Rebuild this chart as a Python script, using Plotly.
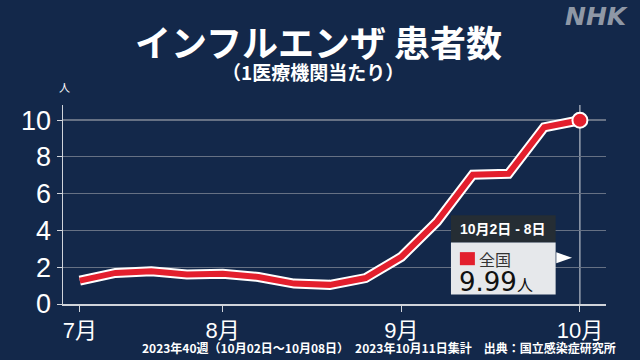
import plotly.graph_objects as go

weeks = list(range(15))
values = [1.27, 1.69, 1.78, 1.61, 1.65, 1.47, 1.11, 1.04, 1.41, 2.56, 4.48, 7.03, 7.08, 9.61, 9.99]
month_ticks = [0, 4, 9, 14]
month_labels = ["7月", "8月", "9月", "10月"]
y_ticks = [0, 2, 4, 6, 8, 10]
latest_label = "10月2日 - 8日"
region_name = "全国"
latest_value = values[-1]

BG = "#13284a"
RED = "#e31f2d"
JP = "Noto Sans CJK JP"
NUM = "Liberation Sans, Noto Sans CJK JP"

fig = go.Figure()
# white outline under the red line
fig.add_trace(go.Scatter(x=weeks, y=values, mode="lines",
                         line=dict(color="white", width=10), hoverinfo="skip"))
fig.add_trace(go.Scatter(x=weeks, y=values, mode="lines",
                         line=dict(color=RED, width=6), hoverinfo="skip"))
fig.add_trace(go.Scatter(x=[weeks[-1]], y=[values[-1]], mode="markers",
                         marker=dict(color=RED, size=15, line=dict(color="white", width=2)),
                         hoverinfo="skip"))

lx = weeks[-1]
shapes = [
    dict(type="line", xref="x", yref="paper", x0=lx, x1=lx, y0=0, y1=1,
         line=dict(color="#d8dce2", width=1), layer="below"),
    dict(type="rect", xref="x", yref="y", x0=lx - 3.61, x1=lx - 0.68, y0=3.35, y1=4.82,
         fillcolor="#252d34", line=dict(width=0)),
    dict(type="rect", xref="x", yref="y", x0=lx - 3.61, x1=lx - 0.68, y0=0.52, y1=3.35,
         fillcolor="#e6e8eb", line=dict(width=0)),
    dict(type="rect", xref="x", yref="y", x0=lx - 3.36, x1=lx - 2.94, y0=2.11, y1=2.82,
         fillcolor=RED, line=dict(width=0)),
    dict(type="path", xref="x", yref="y",
         path=f"M {lx-0.66},2.81 L {lx-0.22},2.51 L {lx-0.66},2.21 Z",
         fillcolor="white", line=dict(width=0)),
]

annotations = [
    dict(text="<b>インフルエンザ 患者数</b>", xref="paper", yref="paper", x=0.5, y=1,
         xanchor="center", yanchor="middle", xshift=-16, yshift=105 - 41, showarrow=False,
         font=dict(family=JP, size=36, color="white")),
    dict(text="<b>（1医療機関当たり）</b>", xref="paper", yref="paper", x=0.5, y=1,
         xanchor="center", yanchor="middle", xshift=-22, yshift=105 - 71, showarrow=False,
         font=dict(family=JP, size=19, color="white")),
    dict(text="人", xref="paper", yref="paper", x=0, y=1, xanchor="center", yanchor="middle",
         xshift=1, yshift=105 - 87, showarrow=False,
         font=dict(family=JP, size=11, color="white")),
    dict(text="<b><i>NHK</i></b>", xref="paper", yref="paper", x=1, y=1, xanchor="center",
         yanchor="middle", xshift=596 - 606, yshift=105 - 16, showarrow=False,
         font=dict(family="DejaVu Sans", size=25, color="#8f98a6")),
    dict(text="<b>2023年40週（10月02日～10月08日）　2023年10月11日集計　出典：国立感染症研究所</b>",
         xref="paper", yref="paper", x=1, y=0, xanchor="right", yanchor="middle",
         xshift=618 - 606, yshift=-(347 - 304), showarrow=False,
         font=dict(family=JP, size=12, color="white")),
    dict(text=f"<b>{latest_label}</b>", xref="x", yref="y", x=lx - 2.15, y=4.08,
         xanchor="center", yanchor="middle", showarrow=False,
         font=dict(family=NUM, size=14, color="white")),
    dict(text=region_name, xref="x", yref="y", x=lx - 2.88, y=2.45,
         xanchor="left", yanchor="middle", showarrow=False,
         font=dict(family=JP, size=16, color="#333333")),
    dict(text=f"{latest_value:.2f}<span style='font-size:16px;font-family:Noto Sans CJK JP'>人</span>",
         xref="x", yref="y", x=lx - 3.43, y=1.22, xanchor="left", yanchor="middle",
         showarrow=False, font=dict(family="DejaVu Sans", size=26, color="#111111")),
]

fig.update_layout(
    width=640, height=360,
    paper_bgcolor=BG, plot_bgcolor=BG,
    margin=dict(l=63, r=34, t=105, b=56),
    showlegend=False,
    shapes=shapes,
    annotations=annotations,
    xaxis=dict(range=[-0.47, 14.73], tickvals=month_ticks, ticktext=month_labels,
               showgrid=False, zeroline=False, showline=True, linecolor="#d0d4da",
               linewidth=1.5, ticks="outside", ticklen=6, tickcolor="#d0d4da",
               tickfont=dict(family=NUM, size=22, color="white"), fixedrange=True),
    yaxis=dict(range=[0, 10.82], tickvals=y_ticks, showgrid=True, gridcolor="#667184",
               gridwidth=1.2, zeroline=False, showline=True, linecolor="#d0d4da",
               linewidth=1.5, ticks="outside", ticklen=5, tickcolor="#d0d4da",
               tickfont=dict(family=NUM, size=27, color="white"), fixedrange=True),
)

fig.write_html("out.html", config={"staticPlot": True},
               post_script="document.body.style.margin='0';document.body.style.background='#13284a';")
